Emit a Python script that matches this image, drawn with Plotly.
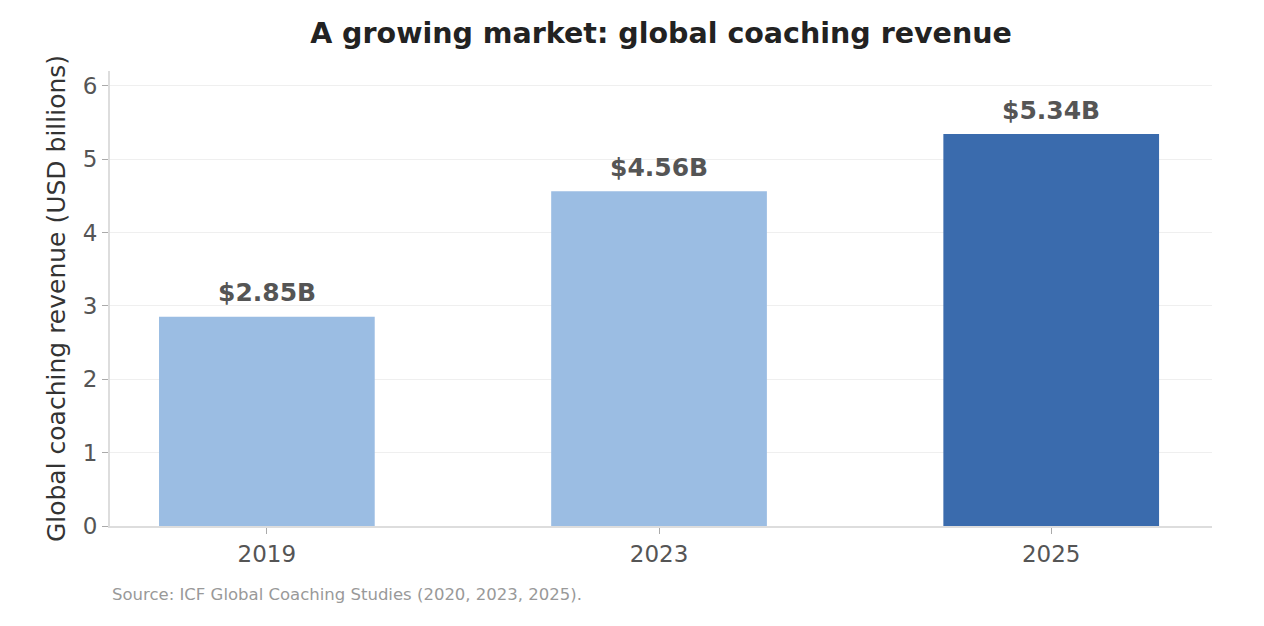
import plotly.graph_objects as go

# chart data
years = ["2019", "2023", "2025"]
revenue = [2.85, 4.56, 5.34]
bar_labels = ["$2.85B", "$4.56B", "$5.34B"]
bar_colors = ["#9bbde3", "#9bbde3", "#3a6bad"]

FONT = "DejaVu Sans"

fig = go.Figure()

fig.add_trace(go.Bar(
    x=years,
    y=revenue,
    width=0.55,
    marker=dict(color=bar_colors, line=dict(width=0)),
    hoverinfo="skip",
))

# value labels above each bar (category index, since "2019" etc. would be read as numbers)
for i, (val, lab) in enumerate(zip(revenue, bar_labels)):
    fig.add_annotation(
        x=i, y=val, text=f"<b>{lab}</b>",
        xref="x", yref="y", yanchor="middle",
        yshift=24, showarrow=False,
        font=dict(family=FONT, size=25, color="#555555"),
    )

fig.update_layout(
    width=1264,
    height=626,
    paper_bgcolor="white",
    plot_bgcolor="white",
    margin=dict(l=102, r=60, t=63, b=108),
    showlegend=False,
    font=dict(family=FONT, color="#555555"),
    title=dict(
        text="<b>A growing market: global coaching revenue</b>",
        x=0.5, xref="paper", xanchor="center",
        y=1 - 25 / 626, yref="container", yanchor="middle",
        font=dict(family=FONT, size=28.5, color="#222222"),
    ),
    xaxis=dict(
        type="category",
        range=[-0.4, 2.41],
        showgrid=False,
        showline=True, linecolor="#dddddd", linewidth=2,
        ticks="outside", ticklen=6, tickcolor="#aaaaaa",
        tickfont=dict(family=FONT, size=23, color="#555555"),
    ),
    yaxis=dict(
        range=[0, 6.2],
        tickvals=[0, 1, 2, 3, 4, 5, 6],
        showgrid=True, gridcolor="#efefef", gridwidth=1,
        zeroline=False,
        showline=True, linecolor="#dddddd", linewidth=2,
        ticks="outside", ticklen=6, tickcolor="#aaaaaa",
        tickfont=dict(family=FONT, size=23, color="#555555"),
        title=dict(text="Global coaching revenue (USD billions)",
                   font=dict(family=FONT, size=25, color="#333333"),
                   standoff=10),
    ),
)

fig.add_annotation(
    text="Source: ICF Global Coaching Studies (2020, 2023, 2025).",
    xref="paper", yref="paper",
    x=0, y=0, xanchor="left", yanchor="middle",
    xshift=0, yshift=-68,
    showarrow=False,
    font=dict(family=FONT, size=16.5, color="#999999"),
)

fig.write_html("out.html")
